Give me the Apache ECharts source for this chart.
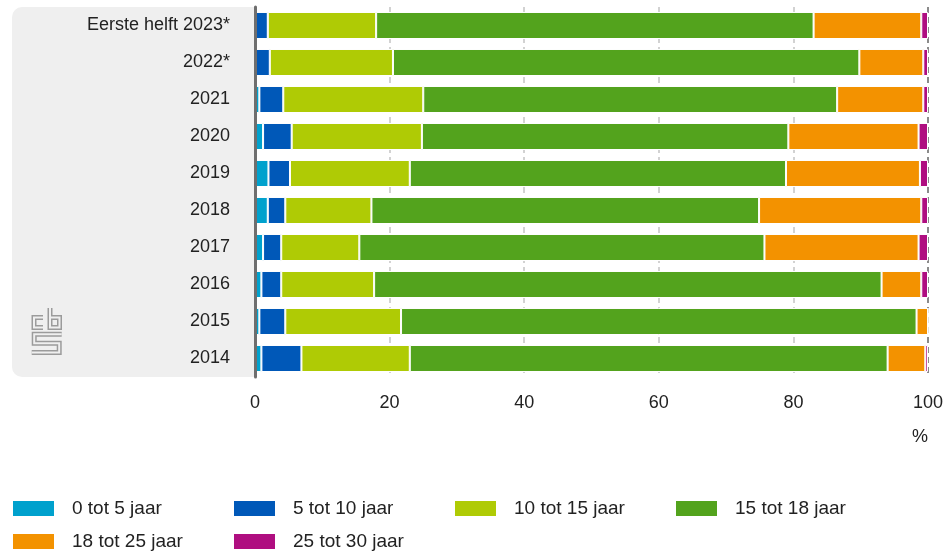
<!DOCTYPE html>
<html>
<head>
<meta charset="utf-8">
<script src="https://cdn.jsdelivr.net/npm/echarts@6/dist/echarts.min.js"></script>
<style>
  html, body { margin: 0; padding: 0; background: #fff; }
  #container { width: 947px; height: 554px; }
</style>
</head>
<body>
<div id="container"></div>
<script>
// categorieen van boven naar onder
var categories = ['Eerste helft 2023*', '2022*', '2021', '2020', '2019', '2018', '2017', '2016', '2015', '2014'];
var seriesNames = ['0 tot 5 jaar', '5 tot 10 jaar', '10 tot 15 jaar', '15 tot 18 jaar', '18 tot 25 jaar', '25 tot 30 jaar'];
var colors = ['#00a1cd', '#0058b8', '#afcb05', '#53a31d', '#f39200', '#af0e80'];
// aandeel per leeftijdsklasse (%)
var jaar0tot5   = [0,    0,    0.65, 1.2,  2.0,  1.9,  1.2,  0.95, 0.65, 0.95];
var jaar5tot10  = [1.9,  2.2,  3.55, 4.25, 3.2,  2.6,  2.7,  2.95, 3.85, 5.95];
var jaar10tot15 = [16.1, 18.3, 20.8, 19.35, 17.8, 12.8, 11.6, 13.8, 17.2, 16.1];
var jaar15tot18 = [65.0, 69.3, 61.5, 54.45, 55.9, 57.6, 60.2, 75.4, 76.6, 71.0];
var jaar18tot25 = [16.0, 9.5,  12.8, 19.35, 19.9, 24.1, 22.9, 5.9,  1.7,  5.6];
var jaar25tot30 = [1.0,  0.7,  0.7,  1.4,  1.2,  1.0,  1.4,  1.0,  0,    0.4];
var xTicks = [0, 20, 40, 60, 80, 100];

var allData = [jaar0tot5, jaar5tot10, jaar10tot15, jaar15tot18, jaar18tot25, jaar25tot30];
var font = 'Liberation Sans, Arial, sans-serif';

var series = [];
for (var i = 0; i < seriesNames.length; i++) {
    series.push({
        name: seriesNames[i],
        type: 'bar',
        stack: 'totaal',
        barCategoryGap: '27%',
        data: allData[i],
        itemStyle: { color: colors[i], borderColor: '#fff', borderWidth: 1 }
    });
}

// cbs-logo links onder in het grijze vlak
var logoPaths = [
    [[43, 317.5], [34, 317.5], [34, 327.5], [43, 327.5]],
    [[50, 308], [50, 327.5], [59.5, 327.5], [59.5, 317.5], [50, 317.5]],
    [[61.7, 334.2], [34.2, 334.2], [34.2, 343.3], [59.2, 343.3], [59.2, 352.5], [31.7, 352.5]]
];
var graphics = [{
    type: 'rect',
    z: -10,
    shape: { x: 12, y: 7, width: 243, height: 370, r: [10, 0, 0, 10] },
    style: { fill: '#efefef' }
}];
logoPaths.forEach(function (p) {
    graphics.push({ type: 'polyline', z: 1, shape: { points: p }, style: { stroke: '#9b9b9b', lineWidth: 5, fill: null } });
    graphics.push({ type: 'polyline', z: 2, shape: { points: p }, style: { stroke: '#efefef', lineWidth: 2, fill: null } });
});
graphics.push({
    type: 'text', x: 928, y: 437,
    style: { text: '%', fill: '#222', font: '18px ' + font, align: 'right', verticalAlign: 'middle' }
});

var dom = document.getElementById('container');
var myChart = echarts.init(dom);
var option = {
    animation: false,
    color: colors,
    grid: { left: 255, right: 19, top: 7, bottom: 177, containLabel: false },
    legend: {
        left: 11,
        top: 497,
        width: 900,
        padding: 0,
        itemGap: 10,
        itemWidth: 43,
        itemHeight: 17,
        icon: 'rect',
        data: seriesNames,
        textStyle: {
            fontFamily: font, fontSize: 19, color: '#222',
            width: 150, lineHeight: 23, padding: [0, 0, 0, 12]
        }
    },
    xAxis: {
        type: 'value',
        min: 0,
        max: 100,
        interval: 20,
        axisLine: { show: false },
        axisTick: { show: false },
        axisLabel: {
            margin: 17, fontFamily: font, fontSize: 18, color: '#222',
            formatter: function (v) { return xTicks.indexOf(v) >= 0 ? String(v) : ''; }
        },
        splitLine: {
            lineStyle: { color: ['rgba(0,0,0,0)', '#c4c4c4', '#c4c4c4', '#c4c4c4', '#c4c4c4', '#666'], type: [6, 4], width: 1.5 }
        }
    },
    yAxis: {
        type: 'category',
        inverse: true,
        data: categories,
        z: 5,
        axisLine: { lineStyle: { color: '#6e6e6e', width: 3 } },
        axisTick: { show: false },
        axisLabel: { margin: 25, fontFamily: font, fontSize: 18, color: '#222' }
    },
    graphic: graphics,
    series: series
};
myChart.setOption(option, true);
</script>
</body>
</html>
